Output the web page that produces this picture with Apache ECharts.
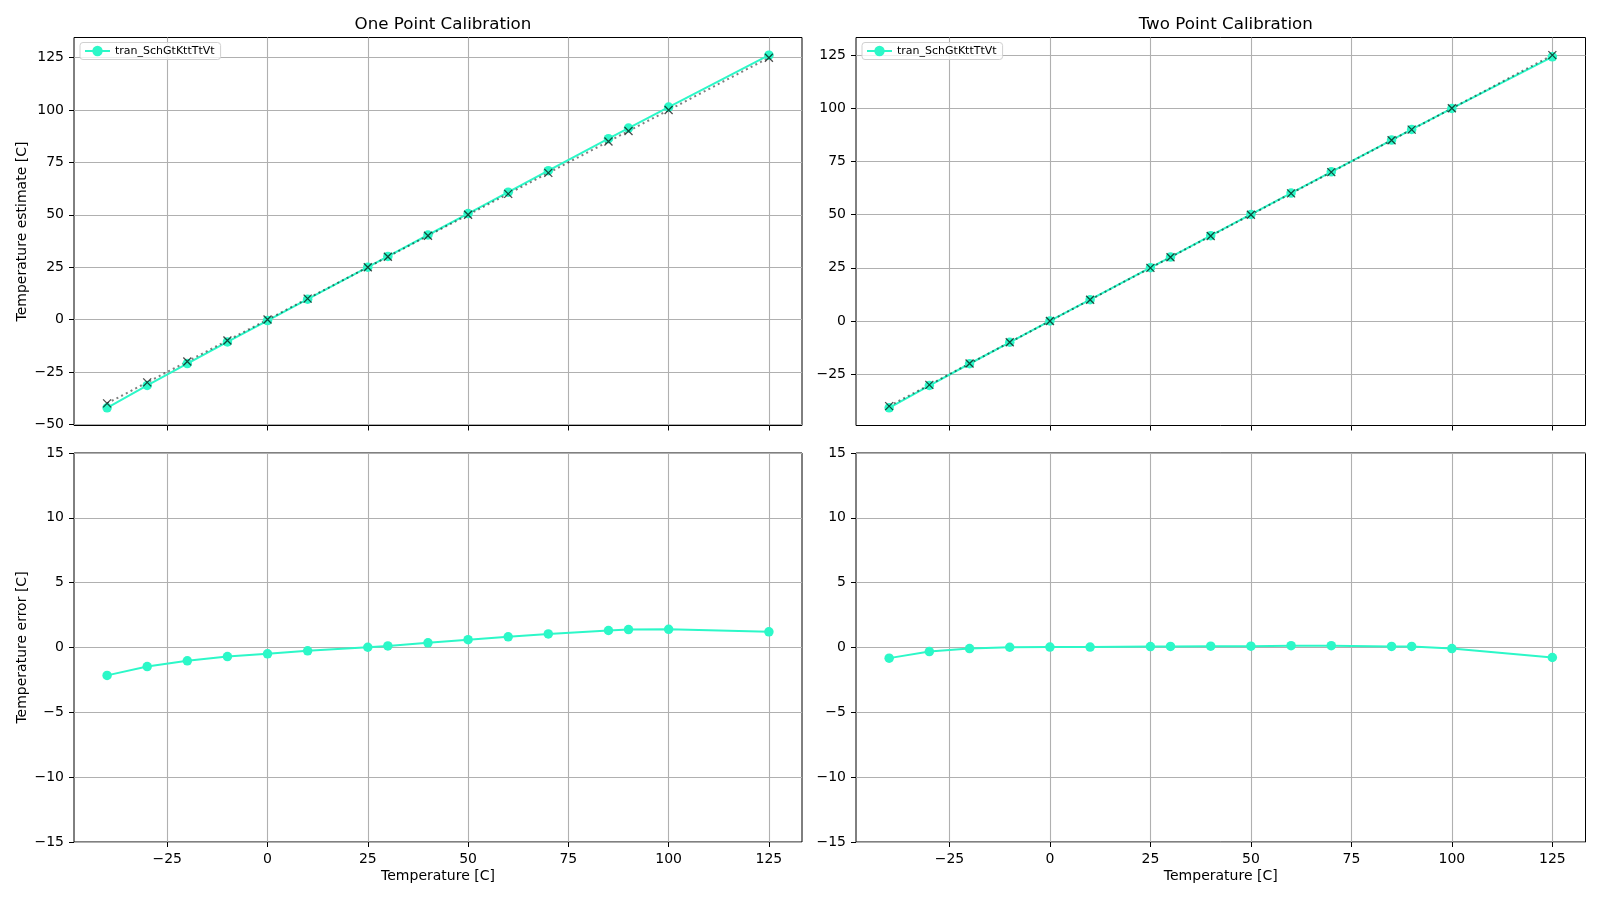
<!DOCTYPE html>
<html>
<head>
<meta charset="utf-8">
<script src="https://cdn.jsdelivr.net/npm/echarts@6/dist/echarts.min.js"></script>
<style>
  html, body { margin: 0; padding: 0; background: #fff; }
  #chart { width: 1600px; height: 900px; }
</style>
</head>
<body>
<div id="chart"></div>
<script>
// measured temperatures (x) for every panel
const temps = [-40, -30, -20, -10, 0, 10, 25, 30, 40, 50, 60, 70, 85, 90, 100, 125];
// ideal estimate (black x, dotted)
const idealVals = [-40, -30, -20, -10, 0, 10, 25, 30, 40, 50, 60, 70, 85, 90, 100, 125];
// one point calibration
const estOne = [-42.15, -31.47, -21.03, -10.70, -0.49, 9.74, 25.02, 30.12, 40.36, 50.60, 60.82, 71.05, 86.31, 91.38, 101.40, 126.21];
const errOne = [-2.15, -1.47, -1.03, -0.70, -0.49, -0.26, 0.02, 0.12, 0.36, 0.60, 0.82, 1.05, 1.31, 1.38, 1.40, 1.21];
// two point calibration
const estTwo = [-40.82, -30.31, -20.08, -9.98, 0.03, 10.03, 25.07, 30.08, 40.10, 50.10, 60.14, 70.14, 85.08, 90.08, 99.92, 124.23];
const errTwo = [-0.82, -0.31, -0.08, 0.02, 0.03, 0.03, 0.07, 0.08, 0.10, 0.10, 0.14, 0.14, 0.08, 0.08, -0.08, -0.77];

const xTicks = [-25, 0, 25, 50, 75, 100, 125];
const yTicksOne = [-50, -25, 0, 25, 50, 75, 100, 125];
const yTicksTwo = [-25, 0, 25, 50, 75, 100, 125];
const yTicksErr = [-15, -10, -5, 0, 5, 10, 15];

const seriesName = 'tran_SchGtKttTtVt';
const cyan = '#2cf8c8';
const font = 'DejaVu Sans';

const pairs = (xs, ys) => xs.map((x, i) => [x, ys[i]]);
const fmt = v => String(v).replace('-', '\u2212');

const grids = [
  { left: 74, top: 37.5, width: 728, height: 388 },
  { left: 856, top: 37.5, width: 729.5, height: 388 },
  { left: 74, top: 453, width: 728, height: 389 },
  { left: 856, top: 453, width: 729.5, height: 389 }
].map(g => Object.assign(g, {
  show: true, borderColor: '#000', borderWidth: 1, backgroundColor: 'transparent'
}));

function xAxis(gridIndex, showLabel, name) {
  return {
    type: 'value', gridIndex: gridIndex, min: -48.25, max: 133.25,
    minInterval: 25, maxInterval: 25,
    name: name || '', nameLocation: 'middle', nameGap: 27,
    nameTextStyle: { fontFamily: font, fontSize: 14, color: '#000' },
    axisLine: { show: false, onZero: false },
    axisTick: { show: true, length: 5, customValues: xTicks, lineStyle: { color: '#000', width: 1 } },
    axisLabel: { show: showLabel, customValues: xTicks, margin: 10, fontFamily: font, fontSize: 14, color: '#000', formatter: fmt },
    splitLine: { show: true, lineStyle: { color: '#b0b0b0', width: 1.1 } }
  };
}

function yAxis(gridIndex, min, max, ticks, name, step) {
  const ax = {
    type: 'value', gridIndex: gridIndex, min: min, max: max,
    name: name || '', nameLocation: 'middle', nameGap: 45,
    nameTextStyle: { fontFamily: font, fontSize: 14, color: '#000' },
    axisLine: { show: false, onZero: false },
    axisTick: { show: true, length: 5, customValues: ticks, lineStyle: { color: '#000', width: 1 } },
    axisLabel: { show: true, customValues: ticks, margin: 10, fontFamily: font, fontSize: 14, color: '#000', formatter: fmt },
    splitLine: { show: true, lineStyle: { color: '#b0b0b0', width: 1.1 } }
  };
  if (step === 5) { ax.interval = 5; } else { ax.minInterval = step; ax.maxInterval = step; }
  return ax;
}

function measured(idx, data) {
  return {
    name: seriesName, type: 'line', xAxisIndex: idx, yAxisIndex: idx,
    data: data, symbol: 'circle', symbolSize: 9.5,
    itemStyle: { color: cyan },
    lineStyle: { color: cyan, width: 2 },
    emphasis: { disabled: true }
  };
}

function ideal(idx) {
  return {
    name: 'ideal', type: 'line', xAxisIndex: idx, yAxisIndex: idx,
    data: pairs(temps, idealVals),
    symbol: 'path://M0 0L10 10M10 0L0 10', symbolSize: 8,
    itemStyle: { color: 'rgba(0,0,0,0)', borderColor: 'rgba(0,0,0,0.7)', borderWidth: 1.3 },
    lineStyle: { color: 'rgba(0,0,0,0.5)', width: 2, type: [2, 3.3] },
    emphasis: { disabled: true }
  };
}

function legend(left) {
  return {
    data: [seriesName], left: left, top: 42.5, orient: 'vertical',
    padding: [3, 6, 3, 4], itemWidth: 25, itemHeight: 13,
    backgroundColor: 'rgba(255,255,255,0.8)', borderColor: '#d0d0d0', borderWidth: 1, borderRadius: 3,
    textStyle: { fontFamily: font, fontSize: 11, color: '#000' },
    selectedMode: false
  };
}

const chart = echarts.init(document.getElementById('chart'));
chart.setOption({
  animation: false,
  backgroundColor: '#fff',
  title: [
    { text: 'One Point Calibration', left: 438, top: 11, textAlign: 'center',
      textStyle: { fontFamily: font, fontSize: 16.7, fontWeight: 'normal', color: '#000' } },
    { text: 'Two Point Calibration', left: 1220.75, top: 11, textAlign: 'center',
      textStyle: { fontFamily: font, fontSize: 16.7, fontWeight: 'normal', color: '#000' } }
  ],
  legend: [legend(80), legend(862)],
  grid: grids,
  xAxis: [
    xAxis(0, false), xAxis(1, false),
    xAxis(2, true, 'Temperature [C]'), xAxis(3, true, 'Temperature [C]')
  ],
  yAxis: [
    yAxis(0, -50.57, 134.63, yTicksOne, 'Temperature estimate [C]', 25),
    yAxis(1, -49.11, 133.29, yTicksTwo, '', 25),
    yAxis(2, -15, 15, yTicksErr, 'Temperature error [C]', 5),
    yAxis(3, -15, 15, yTicksErr, '', 5)
  ],
  series: [
    measured(0, pairs(temps, estOne)), ideal(0),
    measured(1, pairs(temps, estTwo)), ideal(1),
    measured(2, pairs(temps, errOne)),
    measured(3, pairs(temps, errTwo))
  ]
});
</script>
</body>
</html>
